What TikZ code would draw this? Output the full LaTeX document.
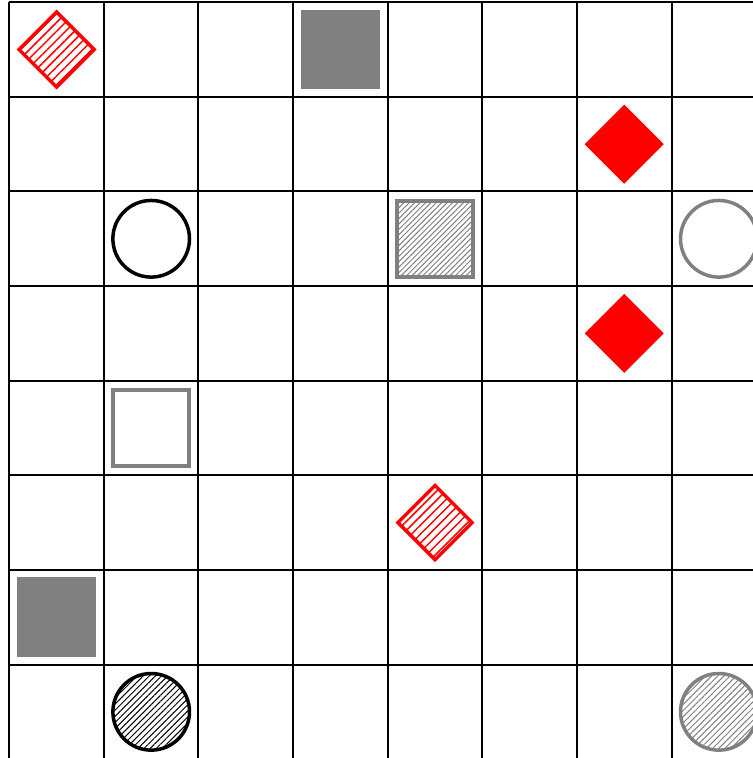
\documentclass[tikz,border=0pt]{standalone}
\usetikzlibrary{shapes.geometric,patterns.meta}
\begin{document}
\begin{tikzpicture}[x=2cm,y=2cm,
  gridline/.style={draw=black,line width=1.2pt},
  sq/.style={rectangle,inner sep=0pt,minimum size=1.6cm,line width=2.4pt},
  circ/.style={circle,inner sep=0pt,minimum size=1.62cm,line width=2.1pt},
  diam/.style={diamond,inner sep=0pt,minimum width=1.6cm,minimum height=1.6cm,aspect=1,line width=2.1pt},
  grayhatch/.style={pattern={Lines[angle=45,distance=2.3pt,line width=0.6pt]},pattern color=gray},
  grayhatchc/.style={pattern={Lines[angle=45,distance=2.6pt,line width=0.6pt]},pattern color=gray},
  blackhatch/.style={pattern={Lines[angle=45,distance=2.6pt,line width=0.6pt]},pattern color=black},
  redhatch/.style={pattern={Lines[angle=45,distance=3.8pt,line width=0.9pt]},pattern color=red}]
\useasboundingbox (-0.098,0.012) rectangle (7.861,8.024);
\foreach \i in {0,...,8} {
  \draw[gridline] (\i,0) -- (\i,8);
  \draw[gridline] (0,\i) -- (8,\i);
}
% row 0
\node[diam,draw=red,redhatch] (d00) at (0.5,7.5) {};
\node[sq,fill=gray,draw=gray] (s30) at (3.5,7.5) {};
% row 1
\node[diam,fill=red,draw=red] (d61) at (6.5,6.5) {};
% row 2
\node[circ,draw=black] (c12) at (1.5,5.5) {};
\node[sq,draw=gray,grayhatch] (s42) at (4.5,5.5) {};
\node[circ,draw=gray] (c72) at (7.5,5.5) {};
% row 3
\node[diam,fill=red,draw=red] (d63) at (6.5,4.5) {};
% row 4
\node[sq,draw=gray] (s14) at (1.5,3.5) {};
% row 5
\node[diam,draw=red,redhatch] (d45) at (4.5,2.5) {};
% row 6
\node[sq,fill=gray,draw=gray] (s06) at (0.5,1.5) {};
% row 7
\node[circ,draw=black,blackhatch] (c17) at (1.5,0.5) {};
\node[circ,draw=gray,grayhatchc] (c77) at (7.5,0.5) {};
\end{tikzpicture}
\end{document}
